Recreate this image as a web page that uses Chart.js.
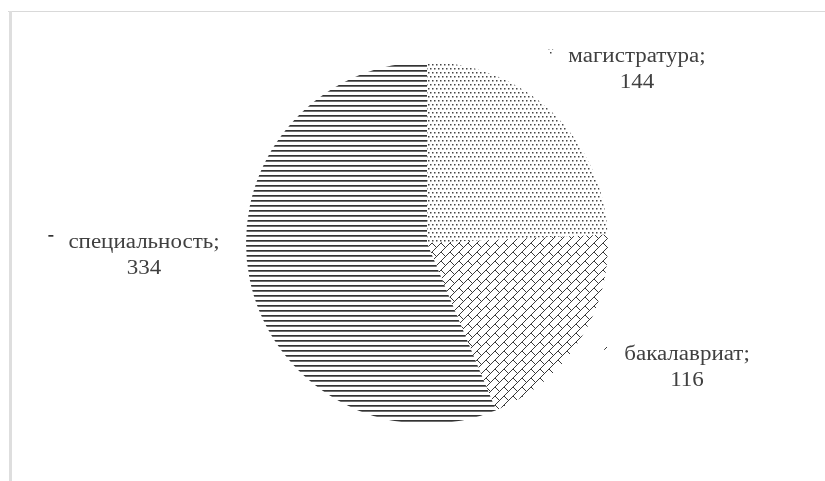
<!DOCTYPE html>
<html>
<head>
<meta charset="utf-8">
<script src="https://cdn.jsdelivr.net/npm/chart.js@4"></script>
<style>
  html, body { margin: 0; padding: 0; background: #fff; }
  #wrap { width: 825px; height: 481px; position: relative; }
</style>
</head>
<body>
<div id="wrap"><canvas id="chart" width="825" height="481"></canvas></div>
<script>
// data
const categories = ['магистратура', 'бакалавриат', 'специальность'];
const values = [144, 116, 334];

// label placement relative to pie centre (px): centre of label block
const labelOffsets = [[210, -173], [260, 125], [-283, 13]];

function makeTile(w, h, draw) {
    const c = document.createElement('canvas');
    c.width = w;
    c.height = h;
    const g = c.getContext('2d');
    g.fillStyle = '#fff';
    g.fillRect(0, 0, w, h);
    draw(g);
    return c.getContext('2d').createPattern(c, 'repeat');
}

// dotted fill
const dots = makeTile(8, 8, g => {
    g.fillStyle = '#444';
    g.fillRect(0, 0, 1.5, 1.5);
    g.fillRect(4, 0, 1.5, 1.5);
    g.fillRect(2, 4, 1.5, 1.5);
    g.fillRect(6, 4, 1.5, 1.5);
});

// diagonal brick fill
const T = 18;
const bricks = makeTile(T, T, g => {
    g.strokeStyle = '#3a3a3a';
    g.lineWidth = 1;
    const h = T / 2, q = T / 4;
    for (const dx of [-T, 0, T]) {
        for (const dy of [-T, 0, T]) {
            g.beginPath();
            for (const c of [0, h]) {
                g.moveTo(dx + c - 2 * T, dy + 2 * T);
                g.lineTo(dx + c + 2 * T, dy - 2 * T);
            }
            // joints between line c=0 and c=h
            for (const p of [0, h]) {
                g.moveTo(dx + p, dy - p);
                g.lineTo(dx + p + q, dy - p + q);
            }
            // joints between line c=h and c=T, shifted half a brick
            for (const p of [0, h]) {
                g.moveTo(dx + p, dy + h - p);
                g.lineTo(dx + p + q, dy + h + q - p);
            }
            g.stroke();
        }
    }
});

// horizontal lines fill
const hlines = makeTile(8, 5, g => {
    g.fillStyle = '#333';
    g.fillRect(0, 0, 8, 1.7);
});

const fills = [dots, bricks, hlines];

const framePlugin = {
    id: 'frame',
    beforeDraw(chart) {
        const ctx = chart.ctx;
        ctx.save();
        ctx.fillStyle = '#d9d9d9';
        ctx.fillRect(8, 11, 817, 1);
        ctx.fillStyle = '#dedede';
        ctx.fillRect(9, 11, 3, 470);
        ctx.restore();
    }
};

const labelPlugin = {
    id: 'sliceLabels',
    afterDraw(chart) {
        const ctx = chart.ctx;
        const arcs = chart.getDatasetMeta(0).data;
        ctx.save();
        ctx.font = '20px "Liberation Serif", "Times New Roman", serif';
        ctx.textAlign = 'center';
        ctx.textBaseline = 'middle';
        arcs.forEach((arc, i) => {
            const cx = arc.x + labelOffsets[i][0];
            const cy = arc.y + labelOffsets[i][1];
            const line1 = categories[i] + ';';
            const line2 = String(values[i]);
            const y1 = cy - 13, y2 = cy + 13;
            ctx.fillStyle = '#404040';
            ctx.save();
            ctx.translate(cx, 0);
            ctx.scale(1.15, 1);
            ctx.fillText(line1, 0, y1);
            ctx.fillText(line2, 0, y2);
            ctx.restore();
            // small legend key before the label
            const w = ctx.measureText(line1).width * 1.15;
            const kx = cx - w / 2 - 20;
            ctx.fillStyle = fills[i];
            ctx.fillRect(kx, y1 - 8, 5, 5);
        });
        ctx.restore();
    }
};

new Chart(document.getElementById('chart'), {
    type: 'pie',
    data: {
        labels: categories,
        datasets: [{
            data: values,
            backgroundColor: fills,
            borderWidth: 0
        }]
    },
    options: {
        responsive: false,
        animation: false,
        devicePixelRatio: 1,
        layout: {
            padding: { top: 62, bottom: 57, left: 100, right: 71 }
        },
        plugins: {
            legend: { display: false },
            tooltip: { enabled: false }
        }
    },
    plugins: [framePlugin, labelPlugin]
});
</script>
</body>
</html>
